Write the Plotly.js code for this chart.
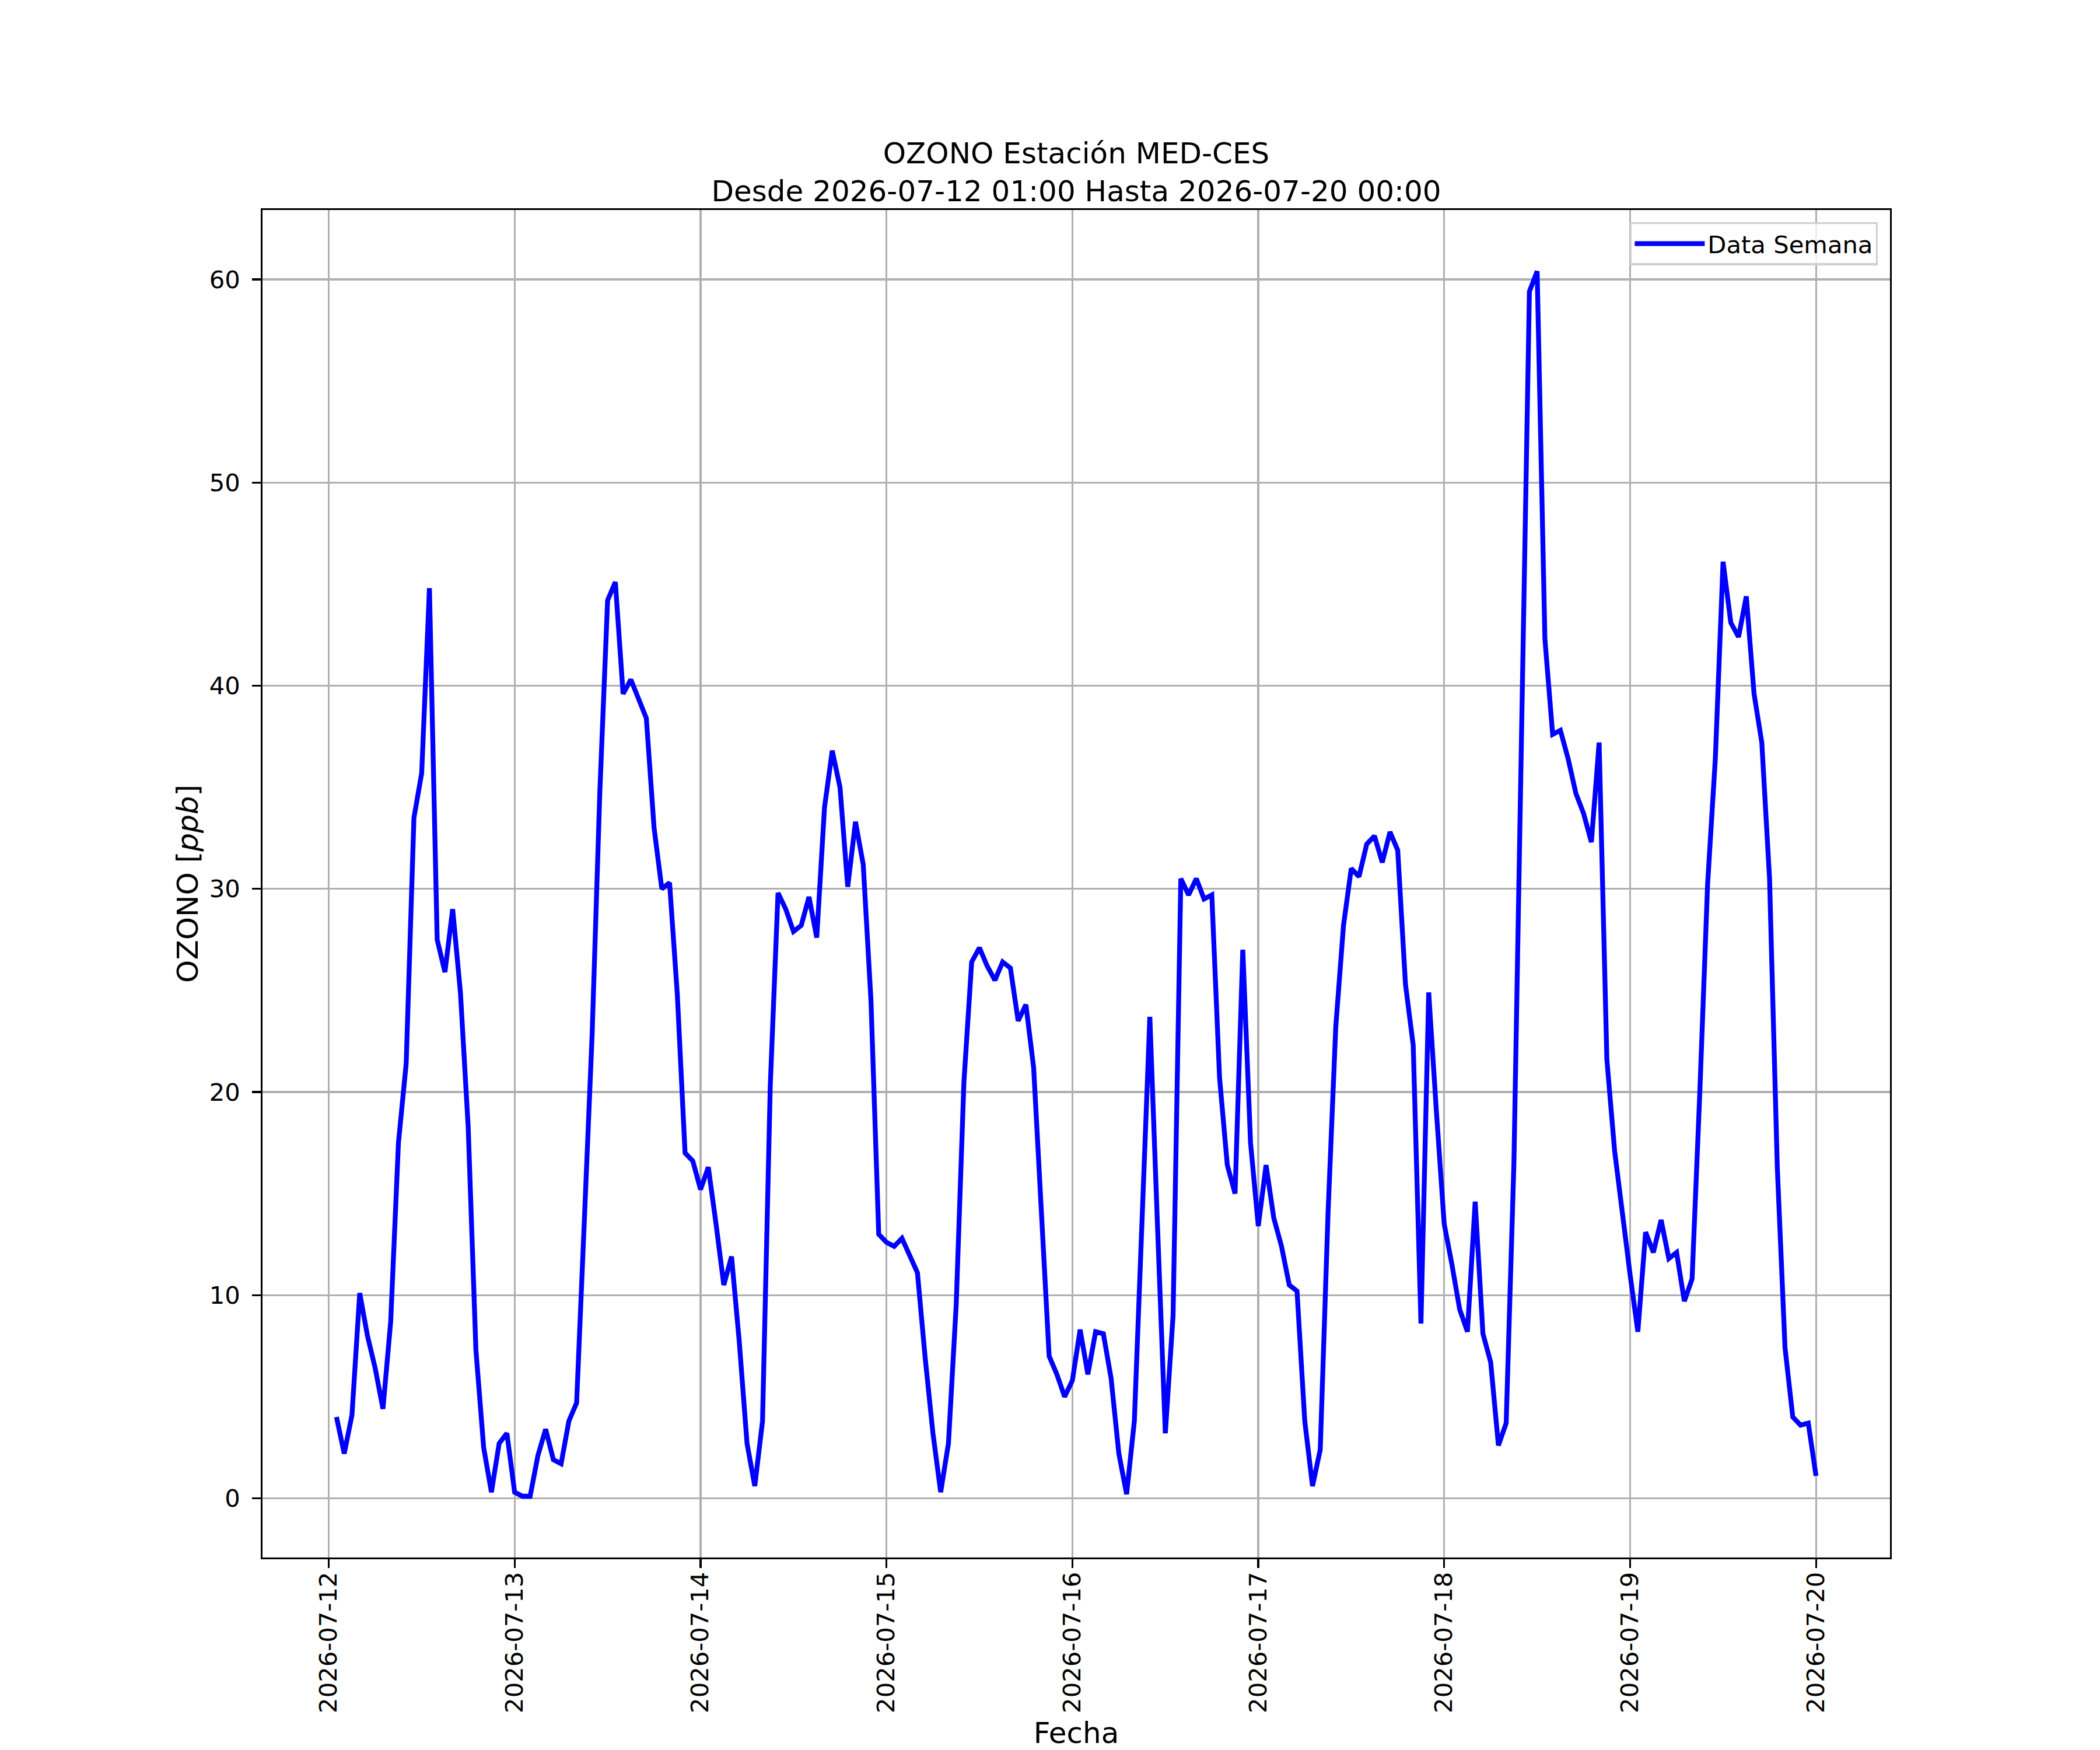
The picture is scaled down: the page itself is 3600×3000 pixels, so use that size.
<!DOCTYPE html>
<html>
<head>
<meta charset="utf-8">
<script src="https://cdn.plot.ly/plotly-3.0.1.min.js"></script>
<style>html,body{margin:0;padding:0;background:#fff;}</style>
</head>
<body>
<div id="chart" style="width:3600px;height:3000px;"></div>
<script>
// Hourly OZONO values (ppb), 2026-07-12 01:00 .. 2026-07-20 00:00
const day12 = [4.0, 2.2, 4.1, 10.1, 8.0, 6.4, 4.4, 8.7, 17.5, 21.4, 33.5, 35.7, 44.8, 27.5, 25.9, 29.0, 24.9, 18.3, 7.3, 2.5, 0.3, 2.7, 3.2, 0.3];
const day13 = [0.1, 0.1, 2.1, 3.4, 1.9, 1.7, 3.8, 4.7, 13.7, 22.8, 34.8, 44.2, 45.1, 39.6, 40.3, 39.3, 38.4, 33.0, 30.0, 30.3, 24.8, 17.0, 16.6, 15.2];
const day14 = [16.3, 13.5, 10.5, 11.9, 7.7, 2.7, 0.6, 3.8, 20.3, 29.8, 29.0, 27.9, 28.2, 29.6, 27.6, 34.0, 36.8, 35.0, 30.1, 33.3, 31.2, 24.5, 13.0, 12.6];
const day15 = [12.4, 12.8, 11.9, 11.1, 6.9, 3.2, 0.3, 2.7, 9.5, 20.5, 26.4, 27.1, 26.2, 25.5, 26.4, 26.1, 23.5, 24.3, 21.2, 14.1, 7.0, 6.1, 5.0, 5.8];
const day16 = [8.3, 6.1, 8.2, 8.1, 5.9, 2.2, 0.2, 3.8, 13.5, 23.7, 13.3, 3.2, 9.0, 30.5, 29.7, 30.5, 29.5, 29.7, 20.7, 16.4, 15.0, 27.0, 17.5, 13.4];
const day17 = [16.4, 13.8, 12.4, 10.5, 10.2, 3.8, 0.6, 2.4, 14.0, 23.2, 28.2, 31.0, 30.6, 32.2, 32.6, 31.3, 32.8, 31.9, 25.3, 22.3, 8.6, 24.9, 19.0, 13.5];
const day18 = [11.5, 9.3, 8.2, 14.6, 8.1, 6.7, 2.6, 3.7, 16.5, 38.0, 59.4, 60.4, 42.3, 37.6, 37.8, 36.4, 34.7, 33.7, 32.3, 37.2, 21.6, 17.1, 13.9, 11.0];
const day19 = [8.2, 13.1, 12.1, 13.7, 11.8, 12.1, 9.7, 10.8, 20.0, 30.2, 36.4, 46.1, 43.1, 42.4, 44.4, 39.6, 37.2, 30.5, 16.3, 7.4, 4.0, 3.6, 3.7, 1.1];

const ozono = [].concat(day12, day13, day14, day15, day16, day17, day18, day19);
const startMs = Date.UTC(2026, 6, 12, 1, 0, 0);
const HOUR = 3600000;
function fmt(ms) { return new Date(ms).toISOString().slice(0, 19).replace('T', ' '); }
const fechas = ozono.map((v, i) => fmt(startMs + i * HOUR));

const titleText = 'OZONO Estación MED-CES<br>Desde 2026-07-12 01:00 Hasta 2026-07-20 00:00';
const xLabel = 'Fecha';
const yLabel = 'OZONO [<i>ppb</i>]';
const seriesName = 'Data Semana';

// matplotlib-like 5% auto margins
const x0 = startMs, x1 = startMs + (ozono.length - 1) * HOUR;
const xm = (x1 - x0) * 0.05;
const ymin = Math.min(...ozono), ymax = Math.max(...ozono);
const ym = (ymax - ymin) * 0.05;

const FONT = 'DejaVu Sans, Verdana, sans-serif';
const LW = 3.33;

const trace = {
  x: fechas, y: ozono, type: 'scatter', mode: 'lines', name: seriesName,
  line: { color: '#0000ff', width: 8.3 }
};

const axisCommon = {
  showline: true, mirror: true, linecolor: '#000', linewidth: LW,
  showgrid: true, gridcolor: '#b0b0b0', gridwidth: LW, zeroline: false,
  ticks: 'outside', ticklen: 14.6, tickwidth: LW, tickcolor: '#000',
  tickfont: { family: FONT, size: 41.7, color: '#000' }
};

const layout = {
  width: 3600, height: 3000,
  paper_bgcolor: '#fff', plot_bgcolor: '#fff',
  margin: { l: 450, r: 360, t: 360, b: 330, pad: 0 },
  font: { family: FONT, color: '#000' },
  title: {
    text: titleText, font: { family: FONT, size: 50, color: '#000' },
    x: 0.5, xref: 'paper', xanchor: 'center',
    y: 1 - 280 / 3000, yref: 'container', yanchor: 'middle'
  },
  xaxis: Object.assign({}, axisCommon, {
    type: 'date',
    range: [fmt(x0 - xm), fmt(x1 + xm)],
    dtick: 86400000, tick0: '2026-07-12 00:00:00',
    tickformat: '%Y-%m-%d', tickangle: -90,
    ticklabelstandoff: -10,
    title: { text: xLabel, font: { family: FONT, size: 50, color: '#000' }, standoff: 33 }
  }),
  yaxis: Object.assign({}, axisCommon, {
    range: [ymin - ym, ymax + ym],
    dtick: 10, tick0: 0,
    ticklabelstandoff: 12,
    title: { text: yLabel, font: { family: FONT, size: 50, color: '#000' }, standoff: 4 }
  }),
  showlegend: true,
  legend: {
    x: 0.9925, y: 0.991, xanchor: 'right', yanchor: 'top',
    bgcolor: 'rgba(255,255,255,0.8)', bordercolor: '#d0d0d0', borderwidth: 3.3,
    font: { family: FONT, size: 41.7, color: '#000' },
    itemwidth: 120
  }
};

Plotly.newPlot('chart', [trace], layout, { staticPlot: true, displayModeBar: false });
</script>
</body>
</html>
